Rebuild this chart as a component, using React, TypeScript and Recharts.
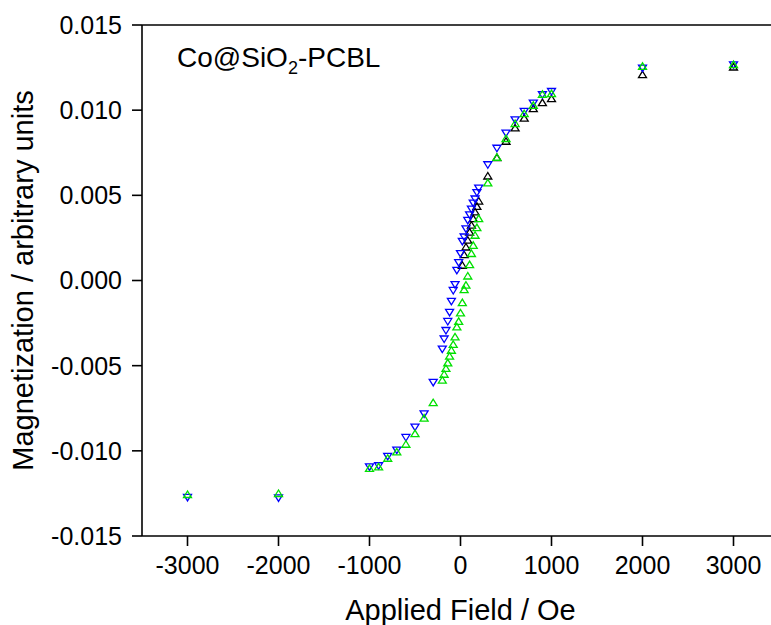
import {
  ScatterChart,
  Scatter,
  XAxis,
  YAxis,
  ReferenceLine,
} from "recharts";

// ascending branch (green, up triangles)
const ascField = [
  -3000, -2000, -1000, -900, -800, -700, -600, -500, -400, -300,
  -200, -180, -160, -140, -120, -100, -80, -60, -40, -20, 0,
  20, 40, 60, 80, 100, 120, 140, 160, 180, 200,
  300, 400, 500, 600, 700, 800, 900, 1000, 2000, 3000,
];
const ascMag = [
  -0.01255, -0.01249, -0.01102, -0.01093, -0.01042, -0.01005, -0.0096, -0.00897, -0.00806, -0.00716,
  -0.00584, -0.00549, -0.00515, -0.00482, -0.00443, -0.00408, -0.00374, -0.0033, -0.00271, -0.00238, -0.00189,
  -0.00128, -0.00052, -0.00026, 0.00028, 0.00095, 0.0016, 0.00208, 0.00267, 0.00312, 0.00365,
  0.00575, 0.00725, 0.00835, 0.00923, 0.00981, 0.0103, 0.01095, 0.01099, 0.01259, 0.01269,
];

// descending branch (blue, down triangles)
const descField = [
  3000, 2000, 1000, 900, 800, 700, 600, 500, 400, 300,
  200, 180, 160, 140, 120, 100, 80, 60, 40, 20, 0,
  -20, -40, -60, -80, -100, -120, -140, -160, -180, -200,
  -300, -400, -500, -600, -700, -800, -900, -1000, -2000, -3000,
];
const descMag = [
  0.01265, 0.01245, 0.01108, 0.01089, 0.0104, 0.00991, 0.00942, 0.00864, 0.00775, 0.00678,
  0.00541, 0.00515, 0.00477, 0.00453, 0.00418, 0.00384, 0.00351, 0.00302, 0.00254, 0.00228, 0.00156,
  0.00104, 0.00058, -0.00026, -0.0006, -0.00124, -0.00189, -0.00242, -0.00295, -0.00345, -0.00404,
  -0.006, -0.00785, -0.00862, -0.00923, -0.00997, -0.01034, -0.01089, -0.01096, -0.01278, -0.01275,
];

// initial curve (black, up triangles)
const initField = [
  20, 40, 60, 80, 100, 120, 140, 160, 180, 200,
  300, 400, 500, 600, 700, 800, 900, 1000, 2000, 3000,
];
const initMag = [
  0.00091, 0.00153, 0.00198, 0.00238, 0.00286, 0.00326, 0.00365, 0.00404, 0.00437, 0.00468,
  0.00615, 0.00723, 0.00819, 0.00897, 0.00955, 0.01011, 0.01046, 0.01069, 0.0121, 0.01255,
];

const xTicks = [-3000, -2000, -1000, 0, 1000, 2000, 3000];
const yTicks = [-0.015, -0.01, -0.005, 0, 0.005, 0.01, 0.015];

const toPoints = (h: number[], m: number[]) => h.map((v, i) => ({ h: v, m: m[i] }));

const FONT = "'Liberation Sans', Arial, sans-serif";
const TW = 8;
const TH = 6.5;

const triangle = (color: string, down: boolean) => (props: any) => {
  const { cx, cy } = props;
  if (cx == null || cy == null) return <g />;
  const s = down ? -1 : 1;
  const d = `M${cx},${cy - (s * TH) / 2} L${cx - TW / 2},${cy + (s * TH) / 2} L${cx + TW / 2},${cy + (s * TH) / 2} Z`;
  return <path d={d} fill="none" stroke={color} strokeWidth={1.3} />;
};

const YTitle = ({ viewBox }: any) => {
  const cy = viewBox.y + viewBox.height / 2;
  const x = 33;
  return (
    <text
      x={x}
      y={cy}
      transform={`rotate(-90 ${x} ${cy})`}
      textAnchor="middle"
      fontFamily={FONT}
      fontSize={29}
      fill="#000"
    >
      Magnetization / arbitrary units
    </text>
  );
};

export default function App() {
  const tickStyle = { fontFamily: FONT, fontSize: 25, fill: "#000" };
  return (
    <div
      style={{
        position: "absolute",
        left: 0,
        top: 0,
        width: 771,
        height: 625,
        overflow: "hidden",
        background: "#fff",
      }}
    >
      <ScatterChart width={779} height={625} margin={{ top: 25, right: 0, left: 0, bottom: 0 }}>
        <XAxis
          type="number"
          dataKey="h"
          domain={[-3500, 3500]}
          ticks={xTicks}
          height={89}
          tick={tickStyle}
          tickSize={10}
          tickMargin={10}
          stroke="#000"
          strokeWidth={1.6}
          label={{
            value: "Applied Field / Oe",
            position: "insideBottom",
            offset: 5,
            fontFamily: FONT,
            fontSize: 29,
            fill: "#000",
          }}
        />
        <YAxis
          type="number"
          dataKey="m"
          domain={[-0.015, 0.015]}
          ticks={yTicks}
          width={142}
          tick={tickStyle}
          tickSize={10}
          tickMargin={10}
          tickFormatter={(v: number) => v.toFixed(3)}
          stroke="#000"
          strokeWidth={1.6}
          label={<YTitle />}
        />
        <ReferenceLine y={0.015} stroke="#000" strokeWidth={1.6} />
        <Scatter
          data={toPoints(initField, initMag)}
          shape={triangle("#000000", false)}
          isAnimationActive={false}
        />
        <Scatter
          data={toPoints(descField, descMag)}
          shape={triangle("#0000ff", true)}
          isAnimationActive={false}
        />
        <Scatter
          data={toPoints(ascField, ascMag)}
          shape={triangle("#00e000", false)}
          isAnimationActive={false}
        />
      </ScatterChart>
      <svg
        width={771}
        height={625}
        style={{ position: "absolute", left: 0, top: 0, pointerEvents: "none" }}
      >
        <text x={177} y={67} fontFamily={FONT} fontSize={28} fill="#000">
          Co@SiO
          <tspan fontSize={18} dy={7}>2</tspan>
          <tspan dy={-7}>-PCBL</tspan>
        </text>
      </svg>
    </div>
  );
}
